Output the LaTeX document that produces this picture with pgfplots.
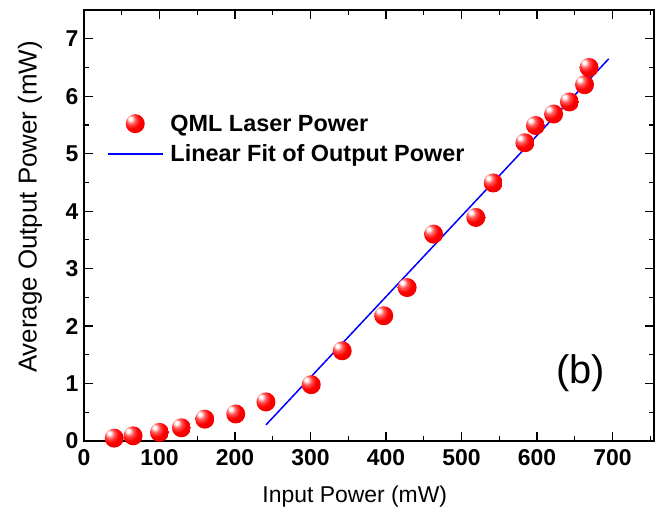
\documentclass[border=0pt]{standalone}
\usepackage{fontspec}
\setmainfont{Liberation Sans}
\usepackage{pgfplots}
\pgfplotsset{compat=1.18}
\pgfdeclareradialshading{redball}{\pgfqpoint{-14bp}{14bp}}{%
  color(0bp)=(white); color(4bp)=(white); color(12bp)=(red!65!white);
  color(22bp)=(red); color(45bp)=(red!88!black); color(70bp)=(red!70!black)}
\pgfdeclareplotmark{redball}{%
  \pgfpathcircle{\pgfpointorigin}{\pgfplotmarksize}%
  \pgfshadepath{redball}{0}%
  \pgfusepath{}}
\pgfplotsset{
  markleg/.style={legend image code/.code={\draw[mark repeat=2,mark phase=2,##1] plot coordinates {(0bp,0bp)(27.5bp,0bp)(55bp,0bp)};}},
  lineleg/.style={legend image code/.code={\draw[blue, line width=1.5bp] (0bp,0bp) -- (55bp,0bp);}},
}
\begin{document}
\begin{tikzpicture}
\useasboundingbox (-84bp,-71bp) rectangle (571bp,441bp);
\begin{axis}[
  at={(0,0)}, anchor=south west,
  scale only axis, width=570bp, height=431bp,
  xmin=0, xmax=755, ymin=0, ymax=7.5,
  xtick={0,100,...,700}, ytick={0,1,...,7},
  minor xtick={50,150,...,750}, minor ytick={0.5,1.5,...,7.5},
  tick align=inside, major tick length=9bp, minor tick length=5bp,
  every tick/.style={black, line width=1.2bp},
  axis line style={line width=1.8bp},
  /pgf/number format/assume math mode=true,
  ticklabel style={font=\bfseries\fontsize{23}{23}\selectfont},
  xticklabel style={yshift=-5bp},
  yticklabel style={xshift=-2bp},
  xlabel={Input Power (mW)}, ylabel={Average Output Power (mW)},
  every axis x label/.style={at={(axis description cs:0.475,-0.13)}, anchor=center, font=\fontsize{23}{23}\selectfont},
  every axis y label/.style={at={(axis description cs:-0.0947,0.543)}, rotate=90, anchor=center, font=\fontsize{26}{26}\selectfont},
  legend style={at={(axis description cs:0.04,0.762)}, anchor=north west, draw=none, fill=none,
    font=\bfseries\fontsize{23.5}{23.5}\selectfont, row sep=8bp, column sep=5bp, inner sep=0pt},
  legend cell align=left,
]
\addplot[only marks, mark=redball, mark size=9.5bp, markleg]
  coordinates {
  (40,0.05) (65,0.09) (100,0.15) (129,0.23) (160,0.38) (201,0.47) (241,0.68)
  (301,0.98) (342,1.57) (397,2.18) (428,2.67) (463,3.6) (519,3.89) (542,4.49)
  (584,5.19) (598,5.49) (622,5.69) (643,5.9) (663,6.2) (669,6.5)
  };
\addlegendentry{QML Laser Power}
\addplot[blue, line width=1.5bp, lineleg]
  coordinates {(241,0.28) (695,6.65)};
\addlegendentry{Linear Fit of Output Power}
\node[font=\fontsize{40}{40}\selectfont] at (axis cs:658,1.18) {(b)};
\end{axis}
\end{tikzpicture}
\end{document}
